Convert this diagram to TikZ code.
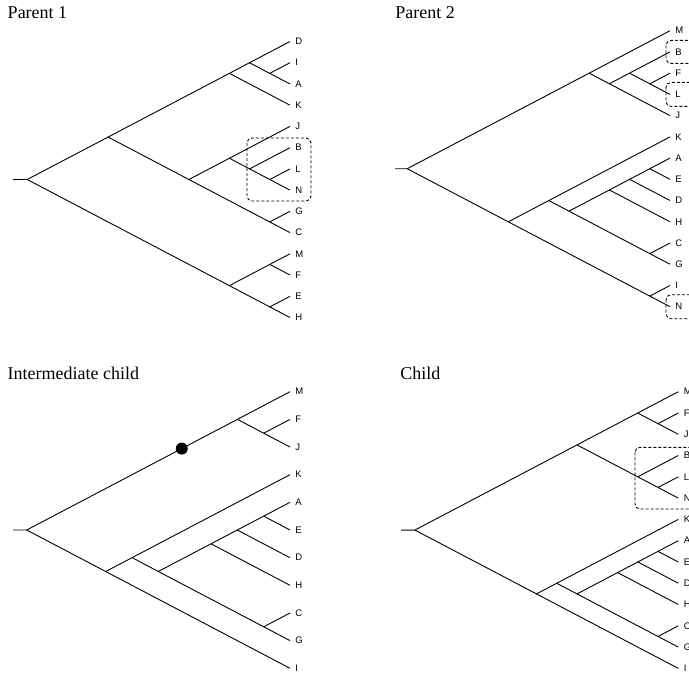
\documentclass[tikz,border=0pt]{standalone}
\usepackage{fontspec}
\setmainfont{Liberation Serif}
\setsansfont{Liberation Sans}
\usetikzlibrary{calc}
\tikzset{
  leaf/.style  = {anchor=west, inner xsep=5pt, inner ysep=0pt, font=\sffamily\fontsize{9.5}{9.5}\selectfont},
  title/.style = {anchor=base west, inner sep=0pt, font=\fontsize{18}{18}\selectfont},
  pick/.style  = {draw, dash pattern=on 3pt off 2pt, rounded corners=5pt, line width=0.9pt}, % dashed box round a moved clade
  gene/.style  = {circle, fill, inner sep=0pt, minimum size=12pt}
}
\begin{document}
\begin{tikzpicture}[x=1pt, y=-1pt, line width=0.9pt]
  \useasboundingbox (0,0) rectangle (689,673);
  \clip (0,0) rectangle (689,673);

  % Parent 1
  \node[title] (p1title) at (7.3,18.3) {Parent 1};
  \node[leaf] (p1D) at (290,41.5) {D};   \node[leaf] (p1I) at (290,62.7) {I};
  \node[leaf] (p1A) at (290,84.0) {A};   \node[leaf] (p1K) at (290,105.2) {K};
  \node[leaf] (p1J) at (290,126.4) {J};  \node[leaf] (p1B) at (290,147.7) {B};
  \node[leaf] (p1L) at (290,168.9) {L};  \node[leaf] (p1N) at (290,190.1) {N};
  \node[leaf] (p1G) at (290,211.3) {G};  \node[leaf] (p1C) at (290,232.6) {C};
  \node[leaf] (p1M) at (290,253.8) {M};  \node[leaf] (p1F) at (290,275.0) {F};
  \node[leaf] (p1E) at (290,296.3) {E};  \node[leaf] (p1H) at (290,317.5) {H};
  \coordinate (p1stub) at (13,179.5);    \coordinate (p1root) at (27.2,179.5);
  \coordinate (p1ia) at (269.7,73.35);   \coordinate (p1dia) at (249.5,62.75);
  \coordinate (p1dk) at (229.4,73.35);   \coordinate (p1ln) at (269.8,179.5);
  \coordinate (p1bln) at (249.6,168.9);  \coordinate (p1jbn) at (229.4,158.25);
  \coordinate (p1gc) at (269.7,221.95);  \coordinate (p1jc) at (188.9,179.5);
  \coordinate (p1dc) at (108.1,137.05);  \coordinate (p1mf) at (269.8,264.4);
  \coordinate (p1eh) at (269.8,306.9);   \coordinate (p1mh) at (229.4,285.65);
  \draw (p1stub) -- (p1root) -- (p1dc) -- (p1dk) -- (p1dia) -- (p1D.west);
  \draw (p1dia) -- (p1ia) -- (p1A.west);
  \draw (p1ia) -- (p1I.west);
  \draw (p1dk) -- (p1K.west);
  \draw (p1dc) -- (p1jc) -- (p1jbn) -- (p1J.west);
  \draw (p1jbn) -- (p1bln) -- (p1ln) -- (p1N.west);
  \draw (p1bln) -- (p1B.west);
  \draw (p1ln) -- (p1L.west);
  \draw (p1jc) -- (p1gc) -- (p1C.west);
  \draw (p1gc) -- (p1G.west);
  \draw (p1root) -- (p1mh) -- (p1eh) -- (p1H.west);
  \draw (p1mh) -- (p1mf) -- (p1M.west);
  \draw (p1mf) -- (p1F.west);
  \draw (p1eh) -- (p1E.west);
  \draw[pick] (247,138) rectangle (311,201);

  % Parent 2
  \node[title] (p2title) at (395,18.3) {Parent 2};
  \node[leaf] (p2M) at (670,30.7) {M};   \node[leaf] (p2B) at (670,51.9) {B};
  \node[leaf] (p2F) at (670,73.2) {F};   \node[leaf] (p2L) at (670,94.4) {L};
  \node[leaf] (p2J) at (670,115.6) {J};  \node[leaf] (p2K) at (670,136.9) {K};
  \node[leaf] (p2A) at (670,158.1) {A};  \node[leaf] (p2E) at (670,179.3) {E};
  \node[leaf] (p2D) at (670,200.5) {D};  \node[leaf] (p2H) at (670,221.8) {H};
  \node[leaf] (p2C) at (670,243.0) {C};  \node[leaf] (p2G) at (670,264.2) {G};
  \node[leaf] (p2I) at (670,285.5) {I};  \node[leaf] (p2N) at (670,306.7) {N};
  \coordinate (p2stub) at (395,168.7);   \coordinate (p2root) at (407.2,168.7);
  \coordinate (p2fl) at (649.8,83.8);    \coordinate (p2bfl) at (629.5,73.15);
  \coordinate (p2bj) at (609.4,83.75);   \coordinate (p2mj) at (589.2,73.15);
  \coordinate (p2ae) at (649.8,168.7);   \coordinate (p2aed) at (629.6,179.3);
  \coordinate (p2aeh) at (609.4,189.95); \coordinate (p2cg) at (649.8,253.6);
  \coordinate (p2ag) at (569.0,211.15);  \coordinate (p2kg) at (548.8,200.55);
  \coordinate (p2in) at (649.8,296.1);   \coordinate (p2kn) at (508.3,221.8);
  \draw (p2stub) -- (p2root) -- (p2mj) -- (p2M.west);
  \draw (p2mj) -- (p2bj) -- (p2J.west);
  \draw (p2bj) -- (p2bfl) -- (p2B.west);
  \draw (p2bfl) -- (p2fl) -- (p2L.west);
  \draw (p2fl) -- (p2F.west);
  \draw (p2root) -- (p2kn) -- (p2in) -- (p2N.west);
  \draw (p2in) -- (p2I.west);
  \draw (p2kn) -- (p2kg) -- (p2K.west);
  \draw (p2kg) -- (p2ag) -- (p2cg) -- (p2G.west);
  \draw (p2cg) -- (p2C.west);
  \draw (p2ag) -- (p2aeh) -- (p2aed) -- (p2ae) -- (p2A.west);
  \draw (p2aeh) -- (p2H.west);
  \draw (p2aed) -- (p2D.west);
  \draw (p2ae) -- (p2E.west);
  \draw[pick] (666,40.4) rectangle (700,63.4);
  \draw[pick] (666,82.4) rectangle (700,106.4);
  \draw[pick] (666,294.7) rectangle (700,318.7);

  % Intermediate child
  \node[title] (ictitle) at (7.3,379.3) {Intermediate child};
  \node[leaf] (icM) at (290,391.7) {M};  \node[leaf] (icF) at (290,419.4) {F};
  \node[leaf] (icJ) at (290,447.0) {J};  \node[leaf] (icK) at (290,474.7) {K};
  \node[leaf] (icA) at (290,502.3) {A};  \node[leaf] (icE) at (290,530.0) {E};
  \node[leaf] (icD) at (290,557.7) {D};  \node[leaf] (icH) at (290,585.3) {H};
  \node[leaf] (icC) at (290,613.0) {C};  \node[leaf] (icG) at (290,640.6) {G};
  \node[leaf] (icI) at (290,668.3) {I};
  \coordinate (icstub) at (13,530.0);    \coordinate (icroot) at (26.7,530.0);
  \coordinate (icfj) at (263.7,433.2);   \coordinate (icmj) at (237.4,419.35);
  \coordinate (icae) at (263.7,516.15);  \coordinate (icad) at (237.3,530.0);
  \coordinate (icah) at (211.0,543.8);   \coordinate (iccg) at (263.7,626.8);
  \coordinate (icag) at (158.3,571.45);  \coordinate (ickg) at (132.1,557.65);
  \coordinate (icki) at (105.7,571.5);
  \draw (icstub) -- (icroot) -- (icmj) -- (icM.west);
  \draw (icmj) -- (icfj) -- (icJ.west);
  \draw (icfj) -- (icF.west);
  \draw (icroot) -- (icki) -- (icI.west);
  \draw (icki) -- (ickg) -- (icK.west);
  \draw (ickg) -- (icag) -- (iccg) -- (icG.west);
  \draw (iccg) -- (icC.west);
  \draw (icag) -- (icah) -- (icad) -- (icae) -- (icA.west);
  \draw (icah) -- (icH.west);
  \draw (icad) -- (icD.west);
  \draw (icae) -- (icE.west);
  \node[gene] (icdot) at ($(icroot)!0.736!(icmj)$) {};

  % Child
  \node[title] (chtitle) at (400,379.3) {Child};
  \node[leaf] (chM) at (678.3,391.7) {M};  \node[leaf] (chF) at (678.3,413.0) {F};
  \node[leaf] (chJ) at (678.3,434.3) {J};  \node[leaf] (chB) at (678.3,455.5) {B};
  \node[leaf] (chL) at (678.3,476.8) {L};  \node[leaf] (chN) at (678.3,498.1) {N};
  \node[leaf] (chK) at (678.3,519.4) {K};  \node[leaf] (chA) at (678.3,540.7) {A};
  \node[leaf] (chE) at (678.3,562.0) {E};  \node[leaf] (chD) at (678.3,583.2) {D};
  \node[leaf] (chH) at (678.3,604.5) {H};  \node[leaf] (chC) at (678.3,625.8) {C};
  \node[leaf] (chG) at (678.3,647.1) {G};  \node[leaf] (chI) at (678.3,668.4) {I};
  \coordinate (chstub) at (401,530.05);  \coordinate (chroot) at (414.9,530.05);
  \coordinate (chfj) at (658.0,423.65);  \coordinate (chmj) at (637.7,413.0);
  \coordinate (chln) at (658.0,487.45);  \coordinate (chbn) at (637.7,476.8);
  \coordinate (chmn) at (577.0,444.9);   \coordinate (chae) at (658.0,551.35);
  \coordinate (chad) at (637.8,561.95);  \coordinate (chah) at (617.6,572.6);
  \coordinate (chcg) at (658.0,636.45);  \coordinate (chag) at (577.0,593.9);
  \coordinate (chkg) at (556.7,583.25);  \coordinate (chki) at (536.5,593.9);
  \draw (chstub) -- (chroot) -- (chmn) -- (chmj) -- (chM.west);
  \draw (chmj) -- (chfj) -- (chJ.west);
  \draw (chfj) -- (chF.west);
  \draw (chmn) -- (chbn) -- (chln) -- (chN.west);
  \draw (chbn) -- (chB.west);
  \draw (chln) -- (chL.west);
  \draw (chroot) -- (chki) -- (chI.west);
  \draw (chki) -- (chkg) -- (chK.west);
  \draw (chkg) -- (chag) -- (chcg) -- (chG.west);
  \draw (chcg) -- (chC.west);
  \draw (chag) -- (chah) -- (chad) -- (chae) -- (chA.west);
  \draw (chah) -- (chH.west);
  \draw (chad) -- (chD.west);
  \draw (chae) -- (chE.west);
  \draw[pick] (635,447.3) rectangle (700,509);
\end{tikzpicture}
\end{document}
